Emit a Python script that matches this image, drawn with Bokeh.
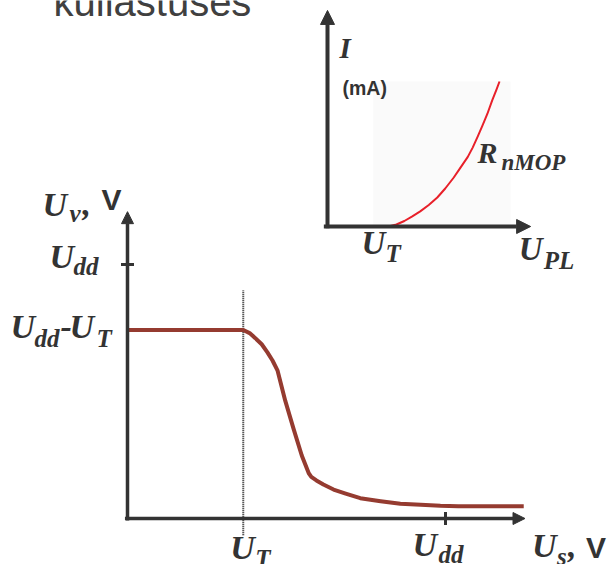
from math import pi

from bokeh.plotting import figure
from bokeh.models import Range1d, Arrow, NormalHead
from bokeh.core.properties import value
from bokeh.embed import file_html
from bokeh.resources import INLINE

# ---- Inverter transfer characteristic (volts) ----
U_DD = 5.0             # supply voltage
U_T = 1.82             # threshold voltage
U_DD_MINUS_U_T = 3.71  # output high level
U_S_MAX = 6.25         # length of the input axis
U_V_MAX = 6.04         # length of the output axis
u_s = [0.0, 1.82, 1.92, 2.01, 2.11, 2.20, 2.28, 2.36, 2.48, 2.61, 2.74,
       2.85, 2.89, 2.97, 3.08, 3.24, 3.43, 3.66, 3.98, 4.29, 4.61,
       4.92, 5.20, 6.23]
u_v = [3.71, 3.71, 3.65, 3.55, 3.43, 3.27, 3.11, 2.91, 2.32, 1.77, 1.24,
       0.89, 0.82, 0.75, 0.67, 0.57, 0.49, 0.40, 0.34, 0.29, 0.27,
       0.25, 0.24, 0.24]
DOT_TOP, DOT_BOTTOM = 4.49, -0.33

# ---- nMOS load current curve (V, mA) ----
U_T_INSET = 1.0
UPL_MAX = 3.33
I_MAX = 7.45
u_pl = [1.00, 1.13, 1.26, 1.39, 1.52, 1.66, 1.80, 1.93, 2.07, 2.18,
        2.30, 2.38, 2.46, 2.54, 2.62, 2.70, 2.77, 2.82]
i_ma = [0.00, 0.07, 0.19, 0.35, 0.52, 0.74, 1.00, 1.31, 1.69, 2.03,
        2.40, 2.72, 3.09, 3.48, 3.88, 4.35, 4.72, 5.00]
BOX = dict(left=0.75, right=3.0, bottom=0.0, top=5.0)

# ---- layout: pixel origin and pixels per unit of each coordinate system ----
W, H = 609, 564
MX0, MY0, MSX, MSY = 127.0, 518.0, 63.6, 50.8
IX0, IY0, ISX, ISY = 327.0, 226.0, 61.0, 29.0
BASELINE_FIX = 0.34   # em shift to put the alphabetic baseline on the anchor

AX = "#333333"
INK = "#333333"
SERIF = "Liberation Serif"
SANS = "Liberation Sans"

p = figure(width=W, height=H,
           x_range=Range1d(-MX0 / MSX, (W - MX0) / MSX),
           y_range=Range1d((MY0 - H) / MSY, MY0 / MSY),
           x_axis_type=None, y_axis_type=None,
           toolbar_location=None, output_backend="svg",
           min_border=0, outline_line_color=None,
           background_fill_color="white", border_fill_color="white")
p.extra_x_ranges = {"ix": Range1d(-IX0 / ISX, (W - IX0) / ISX)}
p.extra_y_ranges = {"iy": Range1d((IY0 - H) / ISY, IY0 / ISY)}
INSET = dict(x_range_name="ix", y_range_name="iy")


def arrow(x0, y0, x1, y1, size, width, **kw):
    p.add_layout(Arrow(end=NormalHead(size=size, fill_color=AX, line_color=AX, line_width=1),
                       x_start=x0, y_start=y0, x_end=x1, y_end=y1,
                       line_color=AX, line_width=width, **kw))


def label(x, y, s, dx, dy, size, font=SERIF, style="bold italic", color=INK, **kw):
    p.text(x=[x], y=[y], text=[s], x_offset=dx, y_offset=dy - BASELINE_FIX * size,
           text_font=value(font), text_font_size=f"{size}px", text_font_style=style,
           text_color=color, text_align="left", text_baseline="alphabetic", **kw)


# ---- inset: current vs. gate-source voltage ----
p.quad(**{k: [v] for k, v in BOX.items()}, fill_color="#fafafa", line_color=None, **INSET)
p.line(u_pl, i_ma, line_color="#e8202a", line_width=2, line_join="round", **INSET)
arrow(0, -0.06, 0, I_MAX, 14, 4, **INSET)
arrow(-0.06, 0, UPL_MAX, 0, 14, 4, **INSET)

label(0, 0, "I", 12, -169, 29, **INSET)
label(0, 0, "(mA)", 15, -132, 19.5, font=SANS, style="bold", **INSET)
label(0, 0, "R", 150, -64, 30, **INSET)
label(0, 0, "nMOP", 174, -56, 23, **INSET)
label(U_T_INSET, 0, "U", -27, 28, 33, **INSET)
label(U_T_INSET, 0, "T", -3, 35, 25, **INSET)
label(UPL_MAX, 0, "U", -12, 34, 33, **INSET)
label(UPL_MAX, 0, "PL", 13, 42, 25, **INSET)

# ---- main chart: output voltage vs. input voltage ----
p.segment(x0=[U_T], y0=[DOT_BOTTOM], x1=[U_T], y1=[DOT_TOP],
          line_color="#222222", line_width=2, line_dash="1 1")
p.line(u_s, u_v, line_color="#953b30", line_width=4, line_join="round")
arrow(0, -0.04, 0, U_V_MAX, 12, 3.5)
arrow(-0.04, 0, U_S_MAX, 0, 12, 3.5)
p.scatter([0], [U_DD], marker="dash", size=13, line_width=3, line_color=AX)
p.scatter([U_DD], [0], marker="dash", angle=pi / 2, size=13, line_width=3, line_color=AX)

# title fragment at the top
label(0, U_V_MAX, "kullastuses", -74, -196, 40, font=SANS, style="normal", color="#404040")

# output axis labels
label(0, U_V_MAX, "U", -85, 4, 34)
label(0, U_V_MAX, "v", -58, 10, 25)
label(0, U_V_MAX, ",", -45, 4, 34)
label(0, U_V_MAX, "V", -26, -2, 30, font=SANS, style="bold")
label(0, U_DD, "U", -78, 4, 34)
label(0, U_DD, "dd", -54, 10, 25)
label(0, U_DD_MINUS_U_T, "U", -117, 8.5, 34)
label(0, U_DD_MINUS_U_T, "dd", -93, 16.5, 25)
label(0, U_DD_MINUS_U_T, "-", -67, 8.5, 34)
label(0, U_DD_MINUS_U_T, "U", -58, 8.5, 34)
label(0, U_DD_MINUS_U_T, "T", -31, 16.5, 25)

# input axis labels
label(U_T, 0, "U", -13, 41, 34)
label(U_T, 0, "T", 12, 48, 25)
label(U_DD, 0, "U", -33, 38, 34)
label(U_DD, 0, "dd", -7, 44, 25)
label(U_S_MAX, 0, "U", 7, 39, 34)
label(U_S_MAX, 0, "s", 32, 46, 25)
label(U_S_MAX, 0, ",", 43, 39, 34)
label(U_S_MAX, 0, "V", 61, 39, 30, font=SANS, style="bold")

open("out.html", "w").write(file_html(p, INLINE))
